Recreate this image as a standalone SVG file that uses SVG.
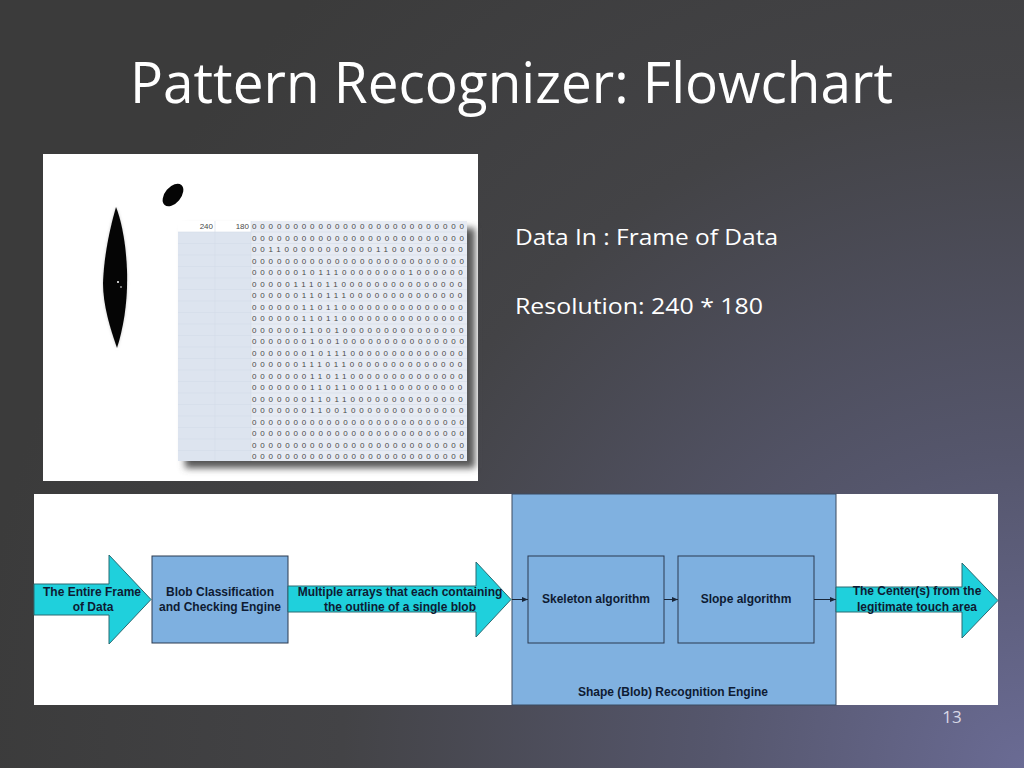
<svg xmlns="http://www.w3.org/2000/svg" width="1024" height="768" viewBox="0 0 1024 768">
<defs>
<radialGradient id="bg" cx="1024" cy="768" r="1050" gradientUnits="userSpaceOnUse">
<stop offset="0" stop-color="#6a6b94"/>
<stop offset="0.3" stop-color="#55566c"/>
<stop offset="0.65" stop-color="#434346"/>
<stop offset="1" stop-color="#3b3b3b"/>
</radialGradient>
<filter id="blur" x="-20%" y="-20%" width="140%" height="140%"><feGaussianBlur stdDeviation="3.5"/></filter>
<filter id="soft" x="-20%" y="-20%" width="140%" height="140%"><feGaussianBlur stdDeviation="1.5"/></filter>
<marker id="arr" viewBox="0 0 10 10" refX="10" refY="5" markerWidth="6" markerHeight="6" orient="auto" markerUnits="userSpaceOnUse">
<path d="M0,1 L10,5 L0,9 Z" fill="#1a2638"/>
</marker>
<style>
.title{font-family:"Open Sans","Liberation Sans",sans-serif;font-size:56px;fill:#ffffff}
.body{font-family:"Open Sans","Liberation Sans",sans-serif;font-size:22px;fill:#ffffff}
.num{font-family:"Open Sans","Liberation Sans",sans-serif;font-size:17px;fill:#d8d8e6}
.dg{font-family:"Liberation Sans",sans-serif;font-size:8px;fill:#4a4a4a;letter-spacing:3.85px}
.hd{font-family:"Liberation Sans",sans-serif;font-size:8px;fill:#4a4a4a;text-anchor:end}
.gl{stroke:#d3dbe7;stroke-width:0.6}
.fl{font-family:"Liberation Sans",Arial,sans-serif;font-size:12px;font-weight:bold;fill:#0e1b33;text-anchor:middle}
.cyan{fill:#1fd0dc;stroke:#2a6a72;stroke-width:1}
.box{fill:#7eb0e0;stroke:#2b3a50;stroke-width:1}
.conn{stroke:#1a2638;stroke-width:1;fill:none}
</style>
</defs>

<rect x="0" y="0" width="1024" height="768" fill="url(#bg)"/>

<text class="title" x="130" y="103" textLength="763" lengthAdjust="spacingAndGlyphs">Pattern Recognizer: Flowchart</text>

<!-- data frame picture -->
<g id="frame-picture">
<rect x="43" y="154" width="435" height="327" fill="#ffffff"/>
<path d="M116,207 C122,222 126,245 127,270 C128,300 124,326 117,348 C110,328 103,305 103,283 C104,255 110,228 116,207 Z" fill="#c8c8c8" filter="url(#soft)"/>
<path d="M116,207 C122,222 126,245 127,270 C128,300 124,326 117,348 C110,328 103,305 103,283 C104,255 110,228 116,207 Z" fill="#050505"/>
<circle cx="118" cy="282" r="1" fill="#ffffff"/>
<circle cx="121" cy="287" r="0.8" fill="#ffffff"/>
<ellipse cx="173" cy="195" rx="13" ry="8" transform="rotate(-50 173 195)" fill="#050505"/>
<!-- spreadsheet shadow -->
<rect x="185" y="228" width="290" height="240" fill="#555555" filter="url(#blur)"/>
<rect x="178" y="221" width="289" height="240" fill="#e7ebf3"/>
<rect x="178" y="221" width="73" height="240" fill="#dde4ef"/>
<rect x="178" y="221" width="73" height="11" fill="#ffffff"/>
<g class="gl">
<line x1="178" y1="232" x2="467" y2="232"/><line x1="178" y1="243.5" x2="467" y2="243.5"/><line x1="178" y1="255" x2="467" y2="255"/><line x1="178" y1="266.5" x2="467" y2="266.5"/><line x1="178" y1="278" x2="467" y2="278"/><line x1="178" y1="289.5" x2="467" y2="289.5"/><line x1="178" y1="301" x2="467" y2="301"/><line x1="178" y1="312.5" x2="467" y2="312.5"/><line x1="178" y1="324" x2="467" y2="324"/><line x1="178" y1="335.5" x2="467" y2="335.5"/><line x1="178" y1="347" x2="467" y2="347"/><line x1="178" y1="358.5" x2="467" y2="358.5"/><line x1="178" y1="370" x2="467" y2="370"/><line x1="178" y1="381.5" x2="467" y2="381.5"/><line x1="178" y1="393" x2="467" y2="393"/><line x1="178" y1="404.5" x2="467" y2="404.5"/><line x1="178" y1="416" x2="467" y2="416"/><line x1="178" y1="427.5" x2="467" y2="427.5"/><line x1="178" y1="439" x2="467" y2="439"/><line x1="178" y1="450.5" x2="467" y2="450.5"/>
<line x1="215" y1="221" x2="215" y2="461"/><line x1="251" y1="221" x2="251" y2="461"/>
</g>
<text class="hd" x="213" y="229">240</text>
<text class="hd" x="249" y="229">180</text>
<text class="dg" x="252" y="229">00000000000000000000000000</text>
<text class="dg" x="252" y="240.5">00000000000000000000000000</text>
<text class="dg" x="252" y="252">00110000000000011000000000</text>
<text class="dg" x="252" y="263.5">00000000000000000000000000</text>
<text class="dg" x="252" y="275">00000010111000000001000000</text>
<text class="dg" x="252" y="286.5">00000111011000000000000000</text>
<text class="dg" x="252" y="298">00000011011100000000000000</text>
<text class="dg" x="252" y="309.5">00000011011000000000000000</text>
<text class="dg" x="252" y="321">00000011011000000000000000</text>
<text class="dg" x="252" y="332.5">00000011001000000000000000</text>
<text class="dg" x="252" y="344">00000001001000000000000000</text>
<text class="dg" x="252" y="355.5">00000001011100000000000000</text>
<text class="dg" x="252" y="367">00000011101100000000000000</text>
<text class="dg" x="252" y="378.5">00000001101100000000000000</text>
<text class="dg" x="252" y="390">00000001101100011000000000</text>
<text class="dg" x="252" y="401.5">00000001101100000000000000</text>
<text class="dg" x="252" y="413">00000001100100000000000000</text>
<text class="dg" x="252" y="424.5">00000000000000000000000000</text>
<text class="dg" x="252" y="436">00000000000000000000000000</text>
<text class="dg" x="252" y="447.5">00000000000000000000000000</text>
<text class="dg" x="252" y="459">00000000000000000000000000</text>
</g>

<text class="body" x="515" y="245" textLength="263" lengthAdjust="spacingAndGlyphs">Data In : Frame of Data</text>
<text class="body" x="515" y="314" textLength="248" lengthAdjust="spacingAndGlyphs">Resolution: 240 * 180</text>

<!-- flowchart panel -->
<rect x="34" y="494" width="964" height="211" fill="#ffffff"/>

<g id="shape-engine">
<rect x="512" y="494" width="324" height="211" fill="#80b1e0" stroke="#3a4a60" stroke-width="1"/>
<text class="fl" x="673" y="696">Shape (Blob) Recognition Engine</text>
</g>

<g id="input-frame">
<polygon class="cyan" points="34,584 109,584 109,555 151,599.5 109,644 109,615 34,615"/>
<text class="fl" x="92" y="595.5">The Entire Frame</text>
<text class="fl" x="93" y="611">of Data</text>
</g>

<g id="blob-classification">
<rect class="box" x="152" y="556" width="136" height="87"/>
<text class="fl" x="220" y="595.5">Blob Classification</text>
<text class="fl" x="220" y="611">and Checking Engine</text>
</g>

<g id="blob-arrays">
<polygon class="cyan" points="288,586 476,586 476,562 511,599.5 476,637 476,612 288,612"/>
<text class="fl" x="400" y="595.5">Multiple arrays that each containing</text>
<text class="fl" x="400" y="611">the outline of a single blob</text>
</g>

<g id="skeleton">
<rect class="box" x="528" y="556" width="136" height="87"/>
<text class="fl" x="596" y="603">Skeleton algorithm</text>
</g>

<g id="slope">
<rect class="box" x="678" y="556" width="136" height="87"/>
<text class="fl" x="746" y="603">Slope algorithm</text>
</g>

<g id="output-centers">
<polygon class="cyan" points="836,587 962,587 962,563 998,600.5 962,638 962,612 836,612"/>
<text class="fl" x="917" y="595">The Center(s) from the</text>
<text class="fl" x="917" y="611">legitimate touch area</text>
</g>

<g id="connectors">
<line class="conn" x1="512" y1="599.5" x2="528" y2="599.5" marker-end="url(#arr)"/>
<line class="conn" x1="664" y1="599.5" x2="678" y2="599.5" marker-end="url(#arr)"/>
<line class="conn" x1="814" y1="599.5" x2="836" y2="599.5" marker-end="url(#arr)"/>
</g>

<text class="num" x="952" y="723" text-anchor="middle">13</text>
</svg>
